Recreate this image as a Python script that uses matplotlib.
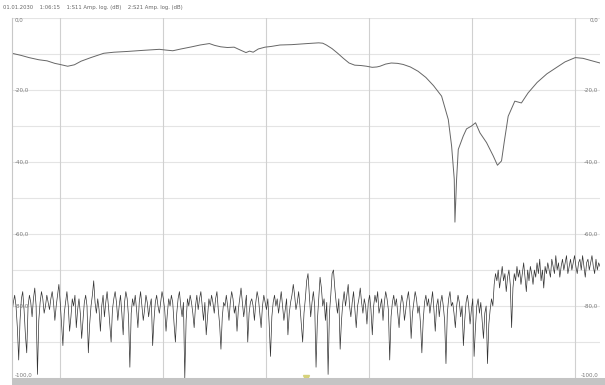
import numpy as np
import matplotlib
matplotlib.use("Agg")
import matplotlib.pyplot as plt
from matplotlib.patches import Rectangle

# kopfzeile
header = "01.01.2030    1:06:15    1:S11 Amp. log. (dB)    2:S21 Amp. log. (dB)"

# achsen
x_min, x_max = 107, 1248
y_min, y_max = -100, 0
x_ticks = [200, 400, 600, 800, 1000, 1200]
x_tick_labels = ["200,0", "400,0", "600,0", "800,0", "1000,0", "1200,0"]
y_ticks = [0, -20, -40, -60, -80, -100]
y_tick_labels = ["0,0", "-20,0", "-40,0", "-60,0", "-80,0", "-100,0"]
y_grid = [-10, -30, -50, -70, -90]

# S11 (obere kurve)
s11_x = [107, 125, 140, 159, 175, 190, 200, 215, 228, 241, 260, 285, 305, 330, 360,
         393, 405, 419, 435, 456, 472, 490, 500, 512, 525, 538, 550, 561, 568, 575,
         585, 598, 610, 627, 650, 680, 702, 710, 717, 728, 739, 750, 761, 772, 784,
         795, 806, 815, 821, 832, 843, 855, 866, 880, 895, 910, 925, 940.6, 953.6, 960,
         965.2, 966.5, 969.7, 973, 982.6, 989, 998.7, 1006.5, 1015, 1027.8, 1040.8, 1049,
         1056.9, 1062, 1069.8, 1082.7, 1095.5, 1108.5, 1126, 1145, 1163, 1180, 1200,
         1215, 1230, 1248]
s11_db = [-9.8, -10.4, -11.0, -11.6, -11.9, -12.6, -12.9, -13.4, -13.0, -12.0, -11.0, -9.8,
          -9.5, -9.3, -9.0, -8.7, -8.9, -9.1, -8.6, -8.0, -7.5, -7.1, -7.6, -8.0, -8.2,
          -8.1, -8.9, -9.6, -9.2, -9.5, -8.6, -8.1, -7.9, -7.5, -7.4, -7.1, -6.9, -7.0,
          -7.5, -8.5, -9.8, -11.2, -12.5, -13.1, -13.2, -13.4, -13.7, -13.6, -13.4, -12.8,
          -12.5, -12.6, -12.9, -13.6, -14.8, -16.5, -18.8, -21.7, -28.2, -35.5, -44.8,
          -56.7, -44.8, -36.5, -32.8, -30.8, -30.0, -29.1, -31.9, -34.6, -38.3, -40.9,
          -39.7, -34.6, -27.3, -23.1, -23.6, -20.8, -17.9, -15.5, -13.8, -12.2, -11.0,
          -11.2, -11.8, -12.5]

# S21 (untere kurve), gleichmaessiger sweep von x_min bis x_max
s21_db = [
    -82, -79, -77, -80, -86, -95, -84, -78, -76, -81,
    -88, -93, -80, -77, -79, -83, -78, -75, -80, -99,
    -84, -79, -76, -78, -82, -80, -77, -79, -81, -78,
    -76, -79, -84, -80, -77, -74, -79, -85, -91, -82,
    -79, -76, -80, -87, -83, -78, -80, -77, -86, -81,
    -78, -82, -89, -84, -79, -77, -80, -93, -85, -80,
    -77, -73, -79, -82, -78, -81, -87, -80, -77, -83,
    -79, -76, -80, -85, -90, -81, -78, -76, -79, -84,
    -80, -77, -82, -88, -79, -76, -78, -83, -97, -82,
    -78, -80, -77, -81, -86, -79, -76, -80, -84, -81,
    -77, -79, -83, -80, -78, -91, -84, -79, -77, -80,
    -82, -79, -76, -78, -81, -87, -82, -78, -80, -77,
    -79, -85, -90, -82, -78, -76, -80, -83, -79, -100,
    -84, -78, -80, -77, -79, -82, -86, -80, -77, -81,
    -78, -76, -80, -84, -79, -88, -83, -78, -80, -77,
    -79, -82, -78, -76, -81, -85, -92, -83, -79, -80,
    -77, -80, -84, -79, -76, -78, -82, -80, -87, -81,
    -78, -75, -79, -83, -80, -77, -90, -82, -79, -78,
    -80, -84, -79, -76, -78, -82, -86, -80, -77, -79,
    -81, -78, -85, -94, -83, -79, -77, -80, -78, -82,
    -79, -76, -80, -84, -81, -78, -88, -82, -79, -77,
    -74, -77, -81, -79, -76, -80, -85, -90, -82, -78,
    -73, -71, -77, -83, -79, -76, -80, -97, -84, -78,
    -72, -75, -80, -78, -84, -79, -99, -82, -77, -71,
    -70, -75, -79, -82, -78, -92, -84, -79, -76, -80,
    -77, -74, -80, -83, -79, -76, -81, -86, -80, -78,
    -75, -79, -82, -78, -80, -85, -79, -77, -81, -88,
    -80, -77, -79, -76, -82, -80, -78, -84, -79, -76,
    -78, -81, -95, -83, -79, -77, -80, -78, -82, -86,
    -80, -77, -79, -84, -81, -78, -76, -80, -89, -82,
    -79, -76, -78, -82, -80, -85, -93, -84, -79, -77,
    -80, -78, -82, -79, -76, -81, -87, -80, -78, -83,
    -79, -77, -80, -84, -96, -82, -78, -76, -80, -79,
    -82, -86, -80, -77, -79, -83, -80, -91, -84, -79,
    -77, -80, -85, -81, -78, -94, -86, -80, -78, -82,
    -79, -84, -89, -82, -80, -96, -85, -81, -78, -80,
    -74, -71, -73, -70, -75, -72, -69, -73, -71, -76,
    -72, -70, -74, -86, -75, -71, -73, -69, -72, -70,
    -74, -71, -68, -72, -76, -70, -73, -69, -71, -74,
    -70, -72, -68, -71, -67, -73, -70, -75, -69, -71,
    -68, -70, -72, -67, -69, -71, -66, -70, -68, -72,
    -69, -67, -70, -68, -66, -71, -69, -67, -70, -68,
    -66, -69, -71, -68, -67, -70, -66, -69, -72, -68,
    -67, -70, -68, -66, -69, -71, -67, -70, -68, -69,
]
s21_x = np.linspace(x_min, x_max, len(s21_db))

# marker unten
marker_x = [678]

fig = plt.figure(figsize=(6.05, 3.85), dpi=100)
ax = fig.add_axes([12 / 605, 7 / 385, 588 / 605, 360 / 385])

ax.set_xlim(x_min, x_max)
ax.set_ylim(y_min, y_max)

# gitter
for y in y_ticks + y_grid:
    ax.axhline(y, color="#e4e4e4", lw=0.8, zorder=0)
for x in x_ticks:
    ax.axvline(x, color="#d0d0d0", lw=0.8, zorder=0)

ax.plot(s11_x, s11_db, color="#666666", lw=0.7)
ax.plot(s21_x, s21_db, color="#333333", lw=0.5)
ax.plot(marker_x, [y_min], marker="v", color="#d6d27a", ms=4, ls="none", clip_on=False)

ax.set_xticks([])
ax.set_yticks([])
for s in ax.spines.values():
    s.set_visible(False)
ax.spines["left"].set_visible(True)
ax.spines["left"].set_color("#c8c8c8")

# y-beschriftung innen links und rechts
for val, lab in zip(y_ticks, y_tick_labels):
    va = "center"
    if val == y_max:
        va = "top"
    if val == y_min:
        va = "bottom"
    ax.text(0.004, val, lab, transform=ax.get_yaxis_transform(), fontsize=4,
            color="#777777", ha="left", va=va)
    ax.text(0.997, val, lab, transform=ax.get_yaxis_transform(), fontsize=4,
            color="#777777", ha="right", va=va)

# grauer balken unten mit x-beschriftung
fig.add_artist(Rectangle((12 / 605, 0), 593 / 605, 7 / 385, transform=fig.transFigure,
                         facecolor="#c4c4c4", edgecolor="none"))
for val, lab in zip(x_ticks, x_tick_labels):
    ax.text(val, -0.008, lab, transform=ax.get_xaxis_transform(), fontsize=3.5,
            color="#555555", ha="center", va="top")

fig.text(3 / 605, 1 - 8 / 385, header, fontsize=3.8, color="#666666", ha="left", va="center")

fig.savefig("out.png", dpi=100)
